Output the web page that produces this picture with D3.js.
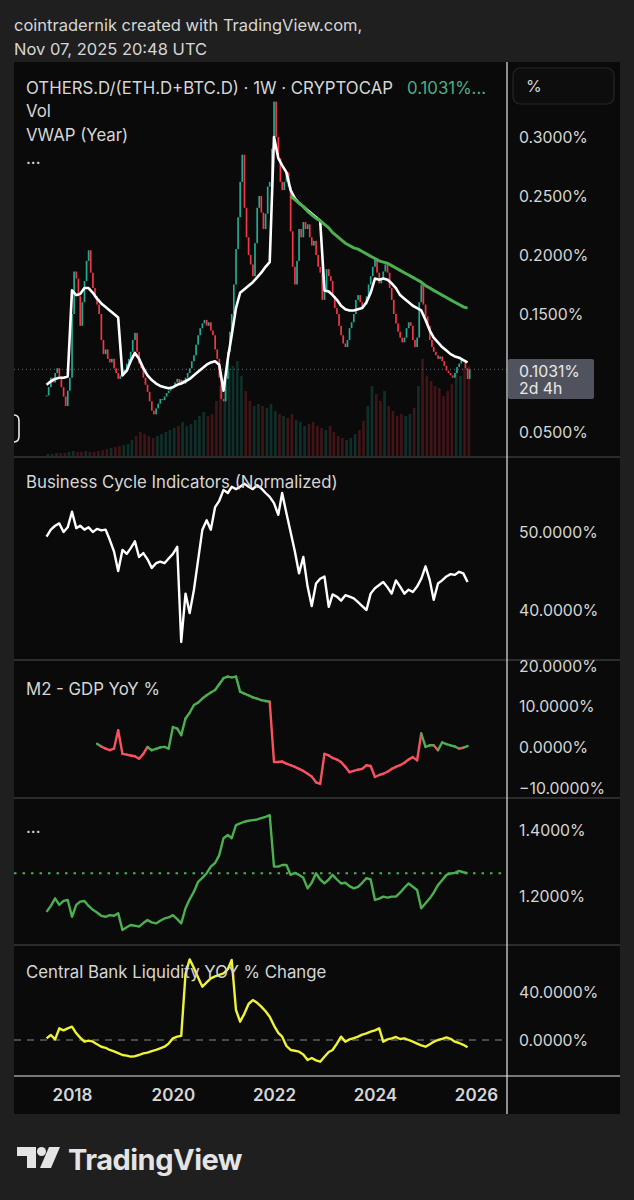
<!DOCTYPE html>
<html>
<head>
<meta charset="utf-8">
<script src="https://cdn.jsdelivr.net/npm/d3@7"></script>
<style>
html, body { margin: 0; padding: 0; background: #1f1f1f; }
svg { display: block; font-family: Inter, "Noto Sans", sans-serif; }
</style>
</head>
<body>
<script>
// ---- data ----
// OTHERS.D/(ETH.D+BTC.D) closes, every half month from Jul 2017
var priceClose = [
	0.081, 0.088, 0.096, 0.092, 0.100, 0.104, 0.097, 0.088, 0.080, 0.072, 0.085, 0.096,
	0.150, 0.186, 0.180, 0.165, 0.140, 0.160, 0.178, 0.195, 0.204, 0.185, 0.172, 0.165,
	0.158, 0.150, 0.128, 0.116, 0.120, 0.112, 0.109, 0.112, 0.104, 0.100, 0.095, 0.098,
	0.100, 0.103, 0.108, 0.112, 0.118, 0.128, 0.134, 0.118, 0.108, 0.104, 0.096, 0.090,
	0.084, 0.076, 0.068, 0.065, 0.070, 0.074, 0.078, 0.077, 0.080, 0.083, 0.085, 0.087,
	0.088, 0.092, 0.095, 0.090, 0.094, 0.091, 0.096, 0.100, 0.104, 0.110, 0.115, 0.124,
	0.132, 0.138, 0.142, 0.145, 0.140, 0.143, 0.136, 0.132, 0.120, 0.112, 0.096, 0.078,
	0.076, 0.095, 0.118, 0.135, 0.150, 0.175, 0.205, 0.232, 0.262, 0.285, 0.240, 0.215,
	0.200, 0.192, 0.182, 0.210, 0.240, 0.250, 0.236, 0.222, 0.235, 0.258, 0.262, 0.290,
	0.330, 0.300, 0.282, 0.262, 0.255, 0.262, 0.270, 0.258, 0.220, 0.190, 0.175, 0.195,
	0.222, 0.215, 0.228, 0.222, 0.226, 0.215, 0.208, 0.212, 0.200, 0.190, 0.185, 0.162,
	0.170, 0.188, 0.182, 0.178, 0.165, 0.155, 0.150, 0.140, 0.132, 0.125, 0.122, 0.128,
	0.138, 0.143, 0.150, 0.162, 0.166, 0.160, 0.156, 0.158, 0.165, 0.175, 0.182, 0.190,
	0.197, 0.185, 0.176, 0.180, 0.186, 0.192, 0.185, 0.172, 0.162, 0.150, 0.142, 0.135,
	0.130, 0.126, 0.130, 0.138, 0.143, 0.140, 0.128, 0.122, 0.130, 0.160, 0.175, 0.158,
	0.148, 0.140, 0.128, 0.122, 0.118, 0.115, 0.112, 0.114, 0.110, 0.106, 0.102, 0.100,
	0.098, 0.096, 0.100, 0.105, 0.108, 0.112, 0.110, 0.104, 0.095, 0.103
];

// monthly series, Jul 2017 .. Nov 2025
var volume = [
	2, 2, 3, 3, 3, 4,
	5, 4, 4, 5, 4, 4, 5, 6, 7, 8, 9, 10,
	11, 12, 16, 20, 24, 22, 20, 18, 20, 22, 24, 26,
	28, 30, 34, 30, 32, 36, 40, 44, 40, 42, 55, 70,
	80, 85, 90, 95, 80, 65, 55, 50, 52, 50, 48, 52,
	45, 42, 40, 38, 42, 36, 34, 30, 32, 34, 30, 28,
	26, 30, 24, 20, 18, 16, 18, 22, 26, 35, 50, 70,
	62, 55, 65, 50, 45, 40, 42, 40, 42, 48, 70, 97,
	80, 75, 70, 68, 60, 65, 72, 85, 80, 88, 90
];

var vwapYear = [
	0.090, 0.093, 0.095, 0.096, 0.096, 0.097,
	0.170, 0.166, 0.167, 0.172, 0.172, 0.168, 0.163, 0.159, 0.156, 0.153, 0.150, 0.147,
	0.098, 0.102, 0.110, 0.117, 0.112, 0.104, 0.098, 0.094, 0.091, 0.089, 0.088, 0.087,
	0.088, 0.090, 0.091, 0.093, 0.095, 0.098, 0.101, 0.104, 0.107, 0.109, 0.110, 0.107,
	0.085, 0.112, 0.132, 0.155, 0.168, 0.171, 0.174, 0.177, 0.181, 0.185, 0.190, 0.194,
	0.300, 0.282, 0.276, 0.270, 0.255, 0.248, 0.244, 0.241, 0.238, 0.235, 0.232, 0.229,
	0.170, 0.169, 0.166, 0.162, 0.157, 0.154, 0.153, 0.153, 0.154, 0.155, 0.160, 0.168,
	0.180, 0.179, 0.180, 0.179, 0.176, 0.172, 0.166, 0.163, 0.160, 0.157, 0.155, 0.153,
	0.145, 0.136, 0.130, 0.126, 0.122, 0.119, 0.116, 0.114, 0.113, 0.111, 0.109
];

// long anchored line, May 2022 .. Nov 2025
var vwapLong = [
	0.250, 0.247, 0.244, 0.241, 0.237, 0.234, 0.231, 0.229,
	0.226, 0.223, 0.219, 0.216, 0.213, 0.210, 0.208, 0.206, 0.205, 0.203, 0.201, 0.199,
	0.197, 0.195, 0.194, 0.193, 0.191, 0.189, 0.187, 0.185, 0.183, 0.181, 0.179, 0.177,
	0.174, 0.172, 0.170, 0.168, 0.166, 0.164, 0.162, 0.160, 0.158, 0.156, 0.155
];

var businessCycle = [
	49.4, 50.3, 50.8, 51.1, 50.0, 50.6,
	52.6, 50.5, 50.8, 50.3, 50.6, 50.0, 50.4, 50.2, 50.3, 49.0, 47.5, 45.0,
	47.7, 47.2, 47.9, 48.8, 46.8, 47.3, 46.5, 45.4, 46.0, 46.2, 46.0, 46.6,
	47.2, 48.1, 35.9, 42.1, 39.6, 42.6, 46.4, 50.3, 51.5, 50.3, 53.2, 54.0,
	55.4, 55.0, 55.8, 55.5, 55.8, 56.2, 55.8, 55.5, 56.0, 55.6, 55.0, 54.5,
	53.7, 52.2, 55.0, 52.4, 50.0, 47.5, 44.7, 46.8, 43.0, 40.5, 43.4, 44.0,
	44.3, 40.4, 42.0, 41.7, 41.2, 41.9, 41.7, 41.5, 41.0, 40.5, 40.0, 42.1,
	42.8, 43.2, 43.6, 42.9, 42.1, 43.8, 43.0, 42.1, 42.6, 42.3, 43.0, 44.0,
	45.6, 43.8, 41.3, 43.4, 43.8, 44.3, 44.6, 44.5, 44.9, 44.7, 43.6
];

// M2 - GDP YoY %, Jul 2018 .. Nov 2025
var m2Gdp = [
	0.9, 0.2, -0.3, -0.7, -0.3, 4.2,
	-1.6, -1.8, -2.0, -2.2, -2.8, -1.6, 0.1, -0.7, -0.4, 0.0, 0.1, -0.3,
	5.0, 4.6, 3.0, 7.1, 8.5, 10.4, 11.0, 12.0, 12.8, 13.5, 14.1, 15.5,
	17.0, 17.4, 17.2, 17.4, 13.7, 13.2, 12.8, 12.3, 12.0, 11.6, 11.4, 11.2,
	-3.6, -3.6, -3.5, -4.0, -4.4, -4.8, -5.3, -5.8, -6.5, -7.2, -8.6, -9.0,
	-1.6, -2.0, -2.6, -3.0, -3.6, -4.8, -6.1, -5.8, -5.5, -5.3, -4.4, -4.6,
	-7.3, -6.8, -6.5, -6.0, -5.3, -4.8, -4.4, -3.8, -3.0, -2.4, -3.2, 3.4,
	0.1, 0.5, 0.5, -0.7, 1.2, 0.8, 0.5, 0.2, -0.3, -0.1, 0.3
];
var m2Rising = [
	["2018-07-01", "2018-08-01"],
	["2019-08-01", "2021-12-01"],
	["2025-01-01", "2025-03-01"],
	["2025-05-01", "2025-09-01"],
	["2025-11-01", "2025-11-01"]
];

var ratioPane = [
	1.152, 1.170, 1.193, 1.173, 1.185, 1.188,
	1.137, 1.173, 1.183, 1.185, 1.170, 1.158, 1.150, 1.140, 1.137, 1.142, 1.140, 1.148,
	1.097, 1.105, 1.112, 1.110, 1.107, 1.118, 1.127, 1.120, 1.117, 1.125, 1.132, 1.135,
	1.142, 1.130, 1.117, 1.163, 1.190, 1.213, 1.243, 1.255, 1.269, 1.289, 1.300, 1.324,
	1.375, 1.385, 1.375, 1.415, 1.420, 1.425, 1.428, 1.430, 1.432, 1.436, 1.440, 1.445,
	1.289, 1.289, 1.294, 1.294, 1.264, 1.270, 1.264, 1.255, 1.223, 1.240, 1.269, 1.250,
	1.238, 1.250, 1.264, 1.250, 1.238, 1.240, 1.230, 1.223, 1.228, 1.240, 1.254, 1.250,
	1.188, 1.192, 1.198, 1.195, 1.198, 1.198, 1.210, 1.225, 1.238, 1.228, 1.218, 1.163,
	1.178, 1.193, 1.210, 1.233, 1.248, 1.264, 1.268, 1.270, 1.276, 1.272, 1.269
];

var cbLiquidity = [
	1.4, 4.2, 0.5, 9.7, 8.0, 9.7,
	11.1, 5.6, 2.0, -1.4, -0.5, -1.4, -3.5, -5.6, -6.5, -8.3, -9.5, -11.0,
	-12.5, -13.0, -13.9, -13.5, -12.5, -11.1, -10.5, -9.2, -8.3, -7.0, -5.6, -3.0,
	1.4, 2.8, 3.5, 55.0, 67.2, 60.0, 52.0, 44.4, 48.0, 51.4, 53.0, 54.2,
	55.6, 59.0, 66.7, 25.0, 15.3, 22.0, 30.0, 33.3, 31.0, 27.8, 24.0, 19.4,
	12.0, 6.0, 2.8, -5.0, -8.3, -9.0, -9.7, -12.0, -16.7, -15.0, -17.0, -18.1,
	-14.0, -10.0, -8.3, -3.0, 2.8, -1.4, 0.5, 1.5, 2.8, 4.5, 5.5, 6.9,
	8.0, 9.7, -1.4, 0.5, 1.4, 2.5, 0.8, 1.4, 0.0, -1.4, -3.0, -4.5,
	-5.6, -3.5, -1.5, 0.0, 1.0, 2.2, 1.0, -1.4, -2.5, -4.0, -6.1
];

var yearTicks = [2018, 2020, 2022, 2024, 2026];
var priceTicks = [0.05, 0.15, 0.20, 0.25, 0.30];   // 0.10 sits under the last-price tag
var cycleTicks = [40, 50];
var m2Ticks = [-10, 0, 10, 20];
var ratioTicks = [1.2, 1.4];
var liquidityTicks = [0, 40];
var lastPrice = 0.1031;

// ---- helpers ----
function halfMonth(k) { return new Date(2017, 6 + Math.floor(k / 2), k % 2 ? 16 : 1); }
function month(startYear, startMonth, i) { return new Date(startYear, startMonth + i, 1); }

var W = 634, H = 1200;
var left = 14, right = 620, axisX = 507;
var textColor = "#d6d6d6";
var upColor = "#22ab94", downColor = "#f23645";

var svg = d3.select("body").append("svg")
	.attr("width", W)
	.attr("height", H);

svg.append("rect").attr("width", W).attr("height", H).attr("fill", "#1f1f1f");

// header
svg.append("text").attr("x", 14).attr("y", 31)
	.attr("fill", textColor).style("font-size", "16.5px")
	.text("cointradernik created with TradingView.com,");
svg.append("text").attr("x", 14).attr("y", 55)
	.attr("fill", textColor).style("font-size", "16.5px")
	.text("Nov 07, 2025 20:48 UTC");

// chart box
svg.append("rect")
	.attr("x", left).attr("y", 62)
	.attr("width", right - left).attr("height", 1052)
	.attr("fill", "#0a0a0a");

var x = d3.scaleTime()
	.domain([new Date(2018, 0, 1), new Date(2026, 0, 1)])
	.range([72, 476]);

var panes = [
	{ top: 62, bottom: 457 },
	{ top: 457, bottom: 660 },
	{ top: 660, bottom: 798 },
	{ top: 798, bottom: 945 },
	{ top: 945, bottom: 1076 }
];

var defs = svg.append("defs");
panes.forEach(function(p, i)
{
	defs.append("clipPath").attr("id", "clip" + i)
		.append("rect")
		.attr("x", left).attr("y", p.top + 1)
		.attr("width", axisX - left).attr("height", p.bottom - p.top - 2);
});

var yPrice = d3.scaleLinear().domain([0.05, 0.30]).range([432, 137]);
var yVol = d3.scaleLinear().domain([0, 100]).range([456, 356]);
var yCycle = d3.scaleLinear().domain([40, 50]).range([610, 532]);
var yM2 = d3.scaleLinear().domain([-10, 20]).range([788, 666]);
var yRatio = d3.scaleLinear().domain([1.2, 1.4]).range([896, 830]);
var yLiq = d3.scaleLinear().domain([0, 40]).range([1040, 992]);

// ---- pane 1: candles, volume, vwap ----
var g1 = svg.append("g").attr("clip-path", "url(#clip0)");

g1.selectAll("rect.vol")
	.data(volume)
	.enter()
	.append("rect")
	.attr("class", "vol")
	.attr("x", function(d, i) { return x(month(2017, 6, i)); })
	.attr("width", 2.6)
	.attr("y", function(d) { return yVol(d); })
	.attr("height", function(d) { return yVol(0) - yVol(d); })
	.attr("fill", function(d, i)
	{
		var a = priceClose[Math.max(0, 2 * i - 1)], b = priceClose[Math.min(priceClose.length - 1, 2 * i + 1)];
		return b >= a ? "rgba(34,171,148,0.24)" : "rgba(242,54,69,0.24)";
	});

g1.append("line")
	.attr("x1", left).attr("x2", axisX)
	.attr("y1", yPrice(lastPrice)).attr("y2", yPrice(lastPrice))
	.attr("stroke", "#6a6d75").attr("stroke-width", 1)
	.attr("stroke-dasharray", "1,3");

g1.selectAll("rect.candle")
	.data(priceClose)
	.enter()
	.append("rect")
	.attr("class", "candle")
	.attr("x", function(d, i) { return x(halfMonth(i)) - 0.8; })
	.attr("width", 1.7)
	.attr("y", function(d, i)
	{
		var o = i ? priceClose[i - 1] : d;
		return yPrice(Math.max(o, d));
	})
	.attr("height", function(d, i)
	{
		var o = i ? priceClose[i - 1] : d;
		return Math.max(1, Math.abs(yPrice(o) - yPrice(d)));
	})
	.attr("fill", function(d, i)
	{
		var o = i ? priceClose[i - 1] : d;
		return d >= o ? upColor : downColor;
	});

var vwapLine = d3.line()
	.x(function(d, i) { return x(month(2017, 6, i)); })
	.y(function(d) { return yPrice(d); });
g1.append("path")
	.attr("d", vwapLine(vwapYear))
	.attr("fill", "none").attr("stroke", "#ffffff").attr("stroke-width", 2.6)
	.attr("stroke-linejoin", "round");

var longLine = d3.line()
	.x(function(d, i) { return x(month(2022, 4, i)); })
	.y(function(d) { return yPrice(d); });
g1.append("path")
	.attr("d", longLine(vwapLong))
	.attr("fill", "none").attr("stroke", "#4caf50").attr("stroke-width", 3)
	.attr("stroke-linejoin", "round");

// left edge marker
svg.append("path")
	.attr("d", "M14,415 Q19,415 19,421 L19,436 Q19,442 14,442")
	.attr("fill", "none").attr("stroke", "#e8e8e8").attr("stroke-width", 1.6);

// ---- pane 2: business cycle ----
var monthLine = d3.line()
	.x(function(d, i) { return x(month(2017, 6, i)); });
svg.append("g").attr("clip-path", "url(#clip1)")
	.append("path")
	.attr("d", monthLine.y(function(d) { return yCycle(d); })(businessCycle))
	.attr("fill", "none").attr("stroke", "#ffffff").attr("stroke-width", 2.4)
	.attr("stroke-linejoin", "round");

// ---- pane 3: M2 - GDP ----
var g3 = svg.append("g").attr("clip-path", "url(#clip2)");
var m2Pts = m2Gdp.map(function(d, i) { return { date: month(2018, 6, i), v: d }; });
function isRising(date)
{
	return m2Rising.some(function(r)
	{
		return date >= new Date(r[0] + "T00:00") && date <= new Date(r[1] + "T00:00");
	});
}
var segLine = d3.line()
	.x(function(d) { return x(d.date); })
	.y(function(d) { return yM2(d.v); });
g3.selectAll("path")
	.data(d3.pairs(m2Pts))
	.enter()
	.append("path")
	.attr("d", function(d) { return segLine(d); })
	.attr("fill", "none")
	.attr("stroke", function(d) { return isRising(d[1].date) ? "#4caf50" : "#f7525f"; })
	.attr("stroke-width", 2.4)
	.attr("stroke-linecap", "round");

// ---- pane 4 ----
var g4 = svg.append("g").attr("clip-path", "url(#clip3)");
g4.append("line")
	.attr("x1", left).attr("x2", axisX)
	.attr("y1", yRatio(ratioPane[ratioPane.length - 1])).attr("y2", yRatio(ratioPane[ratioPane.length - 1]))
	.attr("stroke", "#4caf50").attr("stroke-width", 2.2)
	.attr("stroke-dasharray", "2.5,6");
g4.append("path")
	.attr("d", monthLine.y(function(d) { return yRatio(d); })(ratioPane))
	.attr("fill", "none").attr("stroke", "#4caf50").attr("stroke-width", 2.4)
	.attr("stroke-linejoin", "round");

// ---- pane 5: central bank liquidity ----
var g5 = svg.append("g").attr("clip-path", "url(#clip4)");
g5.append("line")
	.attr("x1", left).attr("x2", axisX)
	.attr("y1", yLiq(0)).attr("y2", yLiq(0))
	.attr("stroke", "#8a8a8a").attr("stroke-width", 1.2)
	.attr("stroke-dasharray", "7,6");
g5.append("path")
	.attr("d", monthLine.y(function(d) { return yLiq(d); })(cbLiquidity))
	.attr("fill", "none").attr("stroke", "#eef23a").attr("stroke-width", 2.4)
	.attr("stroke-linejoin", "round");

// ---- separators ----
[457, 660, 798, 945].forEach(function(y)
{
	svg.append("line")
		.attr("x1", left).attr("x2", right)
		.attr("y1", y).attr("y2", y)
		.attr("stroke", "#2c2c2c").attr("stroke-width", 2);
});
svg.append("line")
	.attr("x1", left).attr("x2", right).attr("y1", 1076).attr("y2", 1076)
	.attr("stroke", "#e6e6e6").attr("stroke-width", 1.2);
svg.append("line")
	.attr("x1", axisX).attr("x2", axisX).attr("y1", 62).attr("y2", 1114)
	.attr("stroke", "#e6e6e6").attr("stroke-width", 1.2);

// ---- price scales ----
function rightAxis(scale, ticks, fmt)
{
	var g = svg.append("g")
		.attr("transform", "translate(" + (axisX + 5) + ",0)")
		.call(d3.axisRight(scale).tickValues(ticks).tickFormat(fmt).tickSize(0).tickPadding(7));
	g.select(".domain").remove();
	g.selectAll("text")
		.attr("fill", textColor)
		.style("font-size", "15.8px")
		.style("font-family", "Inter, 'Noto Sans', sans-serif");
}
var pct4 = function(d) { return d3.format(".4f")(d) + "%"; };
rightAxis(yPrice, priceTicks, pct4);
rightAxis(yCycle, cycleTicks, pct4);
rightAxis(yM2, m2Ticks, pct4);
rightAxis(yRatio, ratioTicks, pct4);
rightAxis(yLiq, liquidityTicks, pct4);

// "%" button
svg.append("rect")
	.attr("x", 513).attr("y", 68).attr("width", 101).attr("height", 36).attr("rx", 7)
	.attr("fill", "#0d0d0d").attr("stroke", "#262626").attr("stroke-width", 1.2);
svg.append("text").attr("x", 526).attr("y", 92)
	.attr("fill", textColor).style("font-size", "16px").text("%");

// last price tag
svg.append("rect")
	.attr("x", 508).attr("y", 359).attr("width", 86).attr("height", 40).attr("rx", 2)
	.attr("fill", "#50535d");
svg.append("text").attr("x", 519).attr("y", 377)
	.attr("fill", "#e8e8e8").style("font-size", "15.8px").text(d3.format(".4f")(lastPrice) + "%");
svg.append("text").attr("x", 519).attr("y", 394)
	.attr("fill", "#e8e8e8").style("font-size", "15.8px").text("2d 4h");

// ---- time axis ----
var gx = svg.append("g")
	.attr("transform", "translate(0,1082)")
	.call(d3.axisBottom(x)
		.tickValues(yearTicks.map(function(y) { return new Date(y, 0, 1); }))
		.tickFormat(d3.timeFormat("%Y"))
		.tickSize(0).tickPadding(7));
gx.select(".domain").remove();
gx.selectAll("text")
	.attr("fill", textColor)
	.style("font-size", "17px")
	.style("font-weight", "600")
	.style("font-family", "Inter, 'Noto Sans', sans-serif");

// ---- legends ----
var legend = [
	{ y: 94, t: "OTHERS.D/(ETH.D+BTC.D) · 1W · CRYPTOCAP" },
	{ y: 117, t: "Vol" },
	{ y: 141, t: "VWAP (Year)" },
	{ y: 164, t: "..." },
	{ y: 488, t: "Business Cycle Indicators (Normalized)" },
	{ y: 695, t: "M2 - GDP YoY %" },
	{ y: 833, t: "..." },
	{ y: 978, t: "Central Bank Liquidity YOY % Change" }
];
svg.selectAll("text.legend")
	.data(legend)
	.enter()
	.append("text")
	.attr("class", "legend")
	.attr("x", 26)
	.attr("y", function(d) { return d.y; })
	.attr("fill", textColor)
	.style("font-size", "16.8px")
	.text(function(d) { return d.t; });
svg.append("text").attr("x", 407).attr("y", 94)
	.attr("fill", "#4fae86").style("font-size", "16.8px")
	.text(d3.format(".4f")(lastPrice) + "%...");

// ---- footer logo ----
var logo = svg.append("g").attr("transform", "translate(17,1147)").attr("fill", "#e4e4e4");
logo.append("path").attr("d", "M0,0 H19 V21 H10 V9 H0 Z");
logo.append("circle").attr("cx", 24.5).attr("cy", 4.5).attr("r", 4.5);
logo.append("path").attr("d", "M32,0 H43 L34,21 H23 Z");
svg.append("text").attr("x", 68).attr("y", 1170)
	.attr("fill", "#e4e4e4")
	.style("font-size", "29px").style("font-weight", "700").style("letter-spacing", "-0.5px")
	.text("TradingView");
</script>
</body>
</html>
